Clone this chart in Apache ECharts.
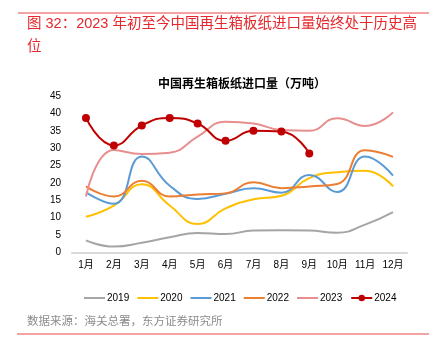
<!DOCTYPE html>
<html><head><meta charset="utf-8">
<script src="https://cdn.jsdelivr.net/npm/echarts@6/dist/echarts.min.js"></script>
<style>html,body{margin:0;padding:0;background:#fff}#c{width:439px;height:362px}</style>
</head><body><div id="c"></div>
<script>
const months = ['1月','2月','3月','4月','5月','6月','7月','8月','9月','10月','11月','12月'];
const yTicks = [0,5,10,15,20,25,30,35,40,45];
const s2019 = [3.5,1.7,2.8,4.4,5.6,5.3,6.3,6.4,6.3,5.7,8.0,11.6];
const s2020 = [10.3,13.5,19.6,13.5,8.2,12.7,15.3,16.3,21.4,23.1,23.5,19.0];
const s2021 = [17.3,14.0,27.6,19.2,15.4,16.9,18.5,17.2,22.3,17.4,27.6,22.1];
const s2022 = [19.0,16.1,20.6,16.1,16.7,17.0,20.2,18.5,19.0,19.7,29.4,27.5];
const s2023 = [16.1,29.5,28.3,28.7,33.3,37.6,37.1,35.2,35.0,38.6,36.4,40.3];
const s2024 = [38.7,30.8,36.5,38.7,37.1,32.1,35.0,34.8,28.5];
const seriesNames = ['2019','2020','2021','2022','2023','2024'];
const seriesData = [s2019,s2020,s2021,s2022,s2023,s2024];
const colors = ['#a5a5a5','#ffc000','#5b9bd5','#ed7d31','#e88e8e','#c00000'];

const font = 'Liberation Sans, Arial, Noto Sans CJK SC, sans-serif';
const lineIcon = 'path://M0,0h21v2h-21z';
const chart = echarts.init(document.getElementById('c'));
chart.setOption({
  animation: false,
  textStyle: {fontFamily: font},
  title: {
    text: '中国再生箱板纸进口量（万吨）',
    left: 237, top: 74, textAlign: 'center',
    textStyle: {fontSize: 12, fontWeight: 'bold', color: '#000', fontFamily: font}
  },
  legend: {
    data: seriesNames.map(n => n === '2024' ? {name: n} : {name: n, icon: lineIcon}),
    top: 288, left: 79,
    itemWidth: 21, itemHeight: 8, itemGap: 8, symbolKeepAspect: true,
    textStyle: {fontSize: 10, color: '#000', fontFamily: font, padding: [0,0,0,-3]}
  },
  grid: {left: 72, right: 32, top: 96, bottom: 109.5, containLabel: false},
  xAxis: {
    type: 'category', data: months, boundaryGap: true,
    axisLine: {lineStyle: {color: '#d9d9d9', width: 2}},
    axisTick: {show: false},
    axisLabel: {fontSize: 10, color: '#000', margin: 8, interval: 0, fontFamily: font}
  },
  yAxis: {
    type: 'value', min: yTicks[0], max: yTicks[yTicks.length-1], interval: 5,
    axisLine: {show: false}, axisTick: {show: false}, splitLine: {show: false},
    axisLabel: {fontSize: 10, color: '#000', margin: 11, fontFamily: font}
  },
  series: seriesNames.map((n, i) => ({
    name: n, type: 'line', data: seriesData[i], smooth: true,
    symbol: n === '2024' ? 'circle' : 'none', symbolSize: 8,
    lineStyle: {width: 2, color: colors[i]},
    itemStyle: {color: colors[i]},
    z: i + 2
  })),
  graphic: [
    {type: 'line', shape: {x1: 18, y1: 13, x2: 429, y2: 13}, style: {stroke: '#e8474b', lineWidth: 1}},
    {type: 'text', left: 27, top: 17, style: {text: '图 32：2023 年初至今中国再生箱板纸进口量始终处于历史高', fontSize: 14.5, fill: '#e5282d', fontFamily: font}},
    {type: 'text', left: 27, top: 40, style: {text: '位', fontSize: 14.5, fill: '#e5282d', fontFamily: font}},
    {type: 'text', left: 27, top: 316, style: {text: '数据来源：海关总署，东方证券研究所', fontSize: 11.5, fill: '#8c8c8c', fontFamily: font}},
    {type: 'line', shape: {x1: 17, y1: 334, x2: 429, y2: 334}, style: {stroke: '#e8474b', lineWidth: 1}}
  ]
});
</script></body></html>
